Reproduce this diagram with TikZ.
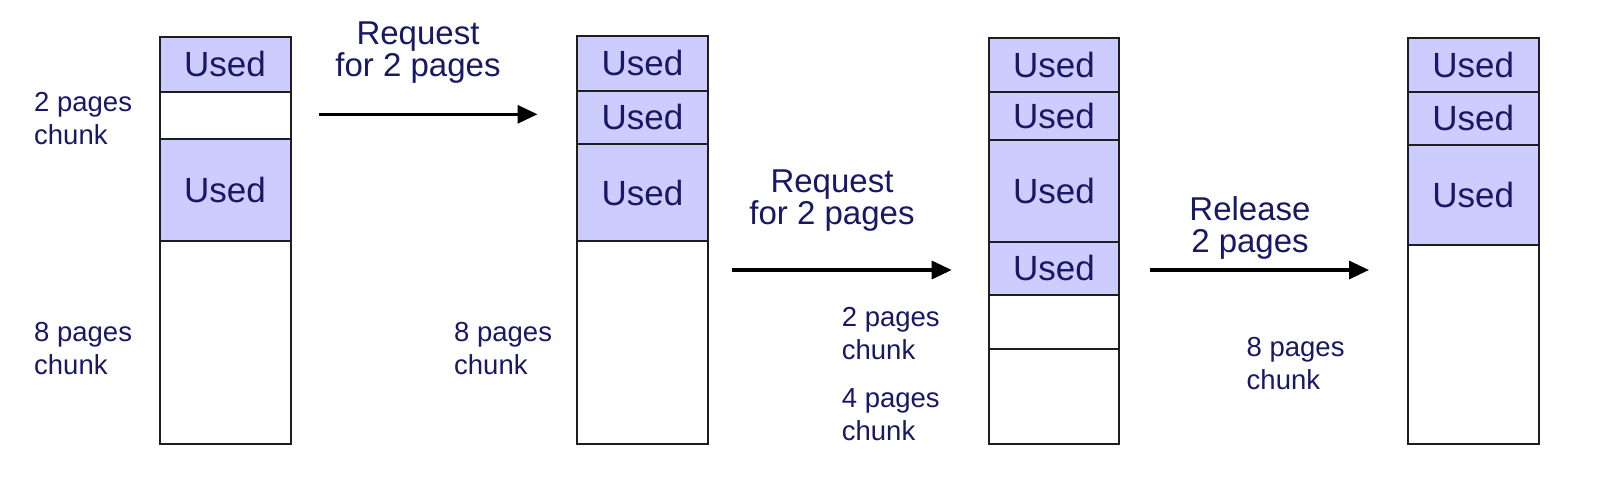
\documentclass[tikz,border=0pt]{standalone}
\usepackage{fontspec}
\setmainfont{Liberation Sans}
\usetikzlibrary{arrows.meta}
\definecolor{navy}{RGB}{24,24,100}
\definecolor{usedfill}{RGB}{204,204,255}
\definecolor{edge}{RGB}{30,30,30}
\tikzset{
  cell/.style={draw=edge, line width=2pt, inner sep=0pt, anchor=north west,
    text=navy, font=\fontsize{35}{40}\selectfont},
  usedcell/.style={cell, fill=usedfill},
  freecell/.style={cell, fill=white},
  chunklabel/.style={anchor=north west, inner sep=0pt, align=left, text=navy,
    font=\fontsize{27.5}{33}\selectfont},
  oplabel/.style={anchor=north, inner sep=0pt, align=center, text=navy,
    font=\fontsize{33}{32}\selectfont},
  oparrow/.style={line width=3.3pt, -{Triangle[length=20pt,width=18pt]}}
}
\begin{document}
\begin{tikzpicture}[x=1pt,y=-1pt]
\useasboundingbox (0,0) rectangle (1624,480);
\fill[white] (0,0) rectangle (1624,480);
% column 1
\node[usedcell, minimum width=131pt, minimum height=54.5pt] (a1) at (158.5,36) {Used};
\node[freecell, minimum width=131pt, minimum height=47.5pt] (a2) at (158.5,90.5) {};
\node[usedcell, minimum width=131pt, minimum height=102pt] (a3) at (158.5,138) {Used};
\node[freecell, minimum width=131pt, minimum height=203pt] (a4) at (158.5,240) {};
% column 2
\node[usedcell, minimum width=131pt, minimum height=54.5pt] (b1) at (576,35) {Used};
\node[usedcell, minimum width=131pt, minimum height=53.5pt] (b2) at (576,89.5) {Used};
\node[usedcell, minimum width=131pt, minimum height=97pt] (b3) at (576,143) {Used};
\node[freecell, minimum width=131pt, minimum height=203pt] (b4) at (576,240) {};
% column 3
\node[usedcell, minimum width=130pt, minimum height=54pt] (c1) at (988,36.7) {Used};
\node[usedcell, minimum width=130pt, minimum height=48.3pt] (c2) at (988,90.7) {Used};
\node[usedcell, minimum width=130pt, minimum height=101.5pt] (c3) at (988,139) {Used};
\node[usedcell, minimum width=130pt, minimum height=53.5pt] (c4) at (988,240.5) {Used};
\node[freecell, minimum width=130pt, minimum height=54.3pt] (c5) at (988,294) {};
\node[freecell, minimum width=130pt, minimum height=94.7pt] (c6) at (988,348.3) {};
% column 4
\node[usedcell, minimum width=130.5pt, minimum height=54pt] (d1) at (1407,36.7) {Used};
\node[usedcell, minimum width=130.5pt, minimum height=53.3pt] (d2) at (1407,90.7) {Used};
\node[usedcell, minimum width=130.5pt, minimum height=100pt] (d3) at (1407,144) {Used};
\node[freecell, minimum width=130.5pt, minimum height=199pt] (d4) at (1407,244) {};
% chunk labels
\node[chunklabel] (l1) at (34,92.4) {2 pages\\chunk};
\node[chunklabel] (l2) at (34,322.4) {8 pages\\chunk};
\node[chunklabel] (l3) at (454,322.4) {8 pages\\chunk};
\node[chunklabel] (l4) at (841.7,306.7) {2 pages\\chunk};
\node[chunklabel] (l5) at (841.7,388.7) {4 pages\\chunk};
\node[chunklabel] (l6) at (1246.5,337.4) {8 pages\\chunk};
% operation labels
\node[oplabel] (o1) at (418,21.4) {Request\\for 2 pages};
\node[oplabel] (o2) at (832,169.4) {Request\\for 2 pages};
\node[oplabel] (o3) at (1250,196.4) {Release\\2 pages};
% arrows
\coordinate (s1) at (319,114.3);  \coordinate (e1) at (537.5,114.3);
\coordinate (s2) at (731.7,270);  \coordinate (e2) at (951.7,270);
\coordinate (s3) at (1149.8,270); \coordinate (e3) at (1369,270);
\draw[oparrow] (s1) -- (e1);
\draw[oparrow] (s2) -- (e2);
\draw[oparrow] (s3) -- (e3);
\end{tikzpicture}
\end{document}
